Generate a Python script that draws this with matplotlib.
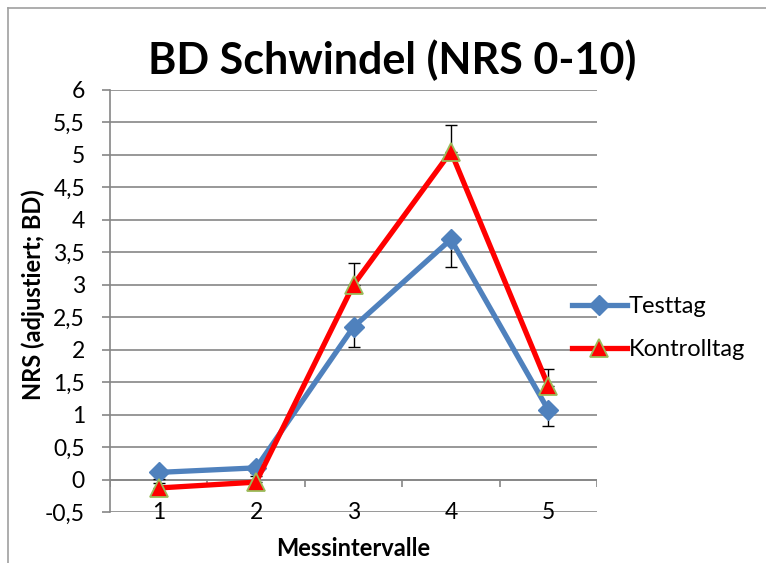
import matplotlib
matplotlib.use('Agg')
import matplotlib.pyplot as plt
from matplotlib.lines import Line2D

plt.rcParams['font.family'] = ['Lato', 'DejaVu Sans']

# Werte
intervalle = [1, 2, 3, 4, 5]
testtag = [0.11, 0.18, 2.35, 3.70, 1.07]
testtag_err = [0.10, 0.12, 0.31, 0.43, 0.24]
kontrolltag = [-0.13, -0.04, 3.00, 5.05, 1.44]
kontrolltag_err = [0.08, 0.14, 0.34, 0.41, 0.26]
y_ticks = [-0.5, 0, 0.5, 1, 1.5, 2, 2.5, 3, 3.5, 4, 4.5, 5, 5.5, 6]

blue = '#4F81BD'
red = '#FF0000'
green = '#9BBB59'
grid = '#868686'

fig = plt.figure(figsize=(7.66, 5.63), dpi=100)
ax = fig.add_axes([110/766, 1 - 512/563, (597-110)/766, (512-90)/563])

# rahmen links/oben wie im excel export
fig.add_artist(Line2D([8/766, 8/766], [0, 1 - 8/563], transform=fig.transFigure, color='#A0A0A0', lw=1.2))
fig.add_artist(Line2D([8/766, 1], [1 - 8/563, 1 - 8/563], transform=fig.transFigure, color='#A0A0A0', lw=1.2))

for yv in y_ticks:
    ax.axhline(yv, color=grid, lw=1.2, zorder=1)

# x-achse bei 0 mit strichen zwischen den kategorien
ax.axhline(0, color=grid, lw=1.2, zorder=1)
bounds = [i + 0.5 for i in [0] + intervalle]
ax.vlines(bounds, -0.11, 0, color=grid, lw=1.2, zorder=1)

ax.errorbar(intervalle, testtag, yerr=[testtag_err, [0]*5], fmt='none',
            ecolor='black', elinewidth=1, capsize=4, capthick=1, zorder=2)
ax.errorbar(intervalle, kontrolltag, yerr=[[0]*5, kontrolltag_err], fmt='none',
            ecolor='black', elinewidth=1, capsize=4, capthick=1, zorder=2)

ax.plot(intervalle, testtag, color=blue, lw=3.8, marker='D', markersize=10,
        markerfacecolor=blue, markeredgecolor=blue, label='Testtag', zorder=3)
ax.plot(intervalle, kontrolltag, color=red, lw=3.8, marker='^', markersize=13,
        markerfacecolor=red, markeredgecolor=green, markeredgewidth=1.3,
        label='Kontrolltag', zorder=4)

ax.set_xlim(0.5, 5.5)
ax.set_ylim(-0.5, 6)
ax.set_yticks(y_ticks)
ax.set_yticklabels([('%g' % v).replace('.', ',') for v in y_ticks], fontsize=16.5)
ax.set_xticks(intervalle)
ax.set_xticklabels([str(i) for i in intervalle], fontsize=16.5)
ax.tick_params(axis='x', length=0, pad=-7)
ax.tick_params(axis='y', length=6, width=1.2, color=grid, pad=12)

for s in ['top', 'right', 'bottom']:
    ax.spines[s].set_visible(False)
ax.spines['left'].set_color(grid)
ax.spines['left'].set_linewidth(1.2)

fig.text(392/766, 1 - 60/563, 'BD Schwindel (NRS 0-10)', fontsize=31,
         fontweight='bold', ha='center', va='center')
fig.text(353/766, 1 - 549/563, 'Messintervalle', fontsize=17,
         fontweight='bold', ha='center', va='center')
fig.text(33/766, 1 - 295/563, 'NRS (adjustiert; BD)', fontsize=17,
         fontweight='bold', ha='center', va='center', rotation=90)

fig.legend(loc='center left', bbox_to_anchor=(551/766, 1 - 328/563),
           frameon=False, fontsize=17, handlelength=2.3, labelspacing=0.95,
           handletextpad=0.1)

fig.savefig('out.png', dpi=100)
